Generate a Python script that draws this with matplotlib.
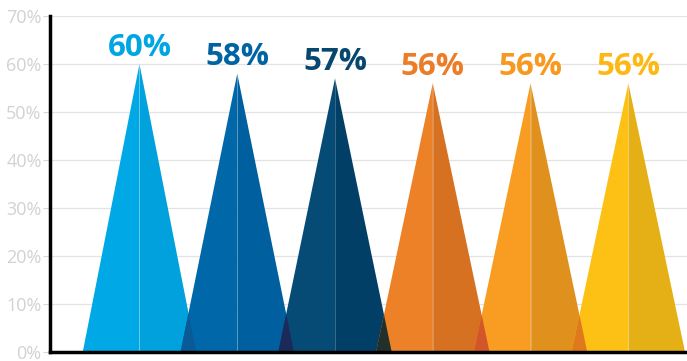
import matplotlib
matplotlib.use("Agg")
import matplotlib.pyplot as plt
import numpy as np
from matplotlib.patches import Polygon

values = [60, 58, 57, 56, 56, 56]
labels = ["60%", "58%", "57%", "56%", "56%", "56%"]
left_colors = ["#00a9e6", "#0068a9", "#054b75", "#ec8127", "#f89d21", "#fdc014"]
right_colors = ["#00a1dc", "#005f9f", "#023f66", "#d57121", "#e0911d", "#e5b015"]
label_colors = ["#00a6e2", "#0064a3", "#07466e", "#ec7c27", "#f8991f", "#fcb913"]
overlap_colors = ["#0b5a98", "#1c2a5b", "#22302c", "#d3552a", "#e0791e"]
yticks = [0, 10, 20, 30, 40, 50, 60, 70]
ytick_labels = ["0%", "10%", "20%", "30%", "40%", "50%", "60%", "70%"]

half_w = 0.58

fig = plt.figure(figsize=(6.87, 3.61), dpi=100)
ax = fig.add_axes([50/687, 1-352/361, 1-50/687, (352-16)/361])
ax.set_xlim(-0.915, 5.60)
ax.set_ylim(0, 70)

xs = np.arange(len(values))
for i, (x, h) in enumerate(zip(xs, values)):
    ax.add_patch(Polygon([(x-half_w, 0), (x, h), (x, 0)], closed=True,
                         facecolor=left_colors[i], edgecolor="none", zorder=3))
    ax.add_patch(Polygon([(x, 0), (x, h), (x+half_w, 0)], closed=True,
                         facecolor=right_colors[i], edgecolor="none", zorder=3))
    ax.plot([x, x], [0, h], color="white", alpha=0.25, lw=0.6, zorder=4)
    ax.text(x, h + 1.7, labels[i], ha="center", va="baseline", fontsize=22.5,
            fontweight="bold", color=label_colors[i], family="Open Sans", zorder=5)

# overlaps between neighbours
for i in range(len(values)-1):
    x1, h1 = xs[i], values[i]
    x2, h2 = xs[i+1], values[i+1]
    a = x1 + half_w
    b = x2 - half_w
    if a <= b:
        continue
    xi = (h1*a + h2*b) / (h1 + h2)
    yi = h2*(xi - b)/half_w
    ax.add_patch(Polygon([(b, 0), (a, 0), (xi, yi)], closed=True,
                         facecolor=overlap_colors[i], edgecolor="none", zorder=4))

ax.set_yticks(yticks)
ax.set_yticklabels(ytick_labels, family="Open Sans", fontsize=13, color="#d2d2d2")
ax.set_xticks([])
ax.grid(axis="y", color="#e3e3e3", lw=0.9, zorder=0)
ax.tick_params(axis="y", length=5, color="#d8d8d8", pad=1)
for s in ["top", "right"]:
    ax.spines[s].set_visible(False)
ax.spines["left"].set_linewidth(2.5)
ax.spines["bottom"].set_linewidth(2.5)
ax.spines["left"].set_color("black")
ax.spines["bottom"].set_color("black")
ax.spines["left"].set_zorder(6)
ax.spines["bottom"].set_zorder(6)

fig.savefig("out.png", dpi=100)
